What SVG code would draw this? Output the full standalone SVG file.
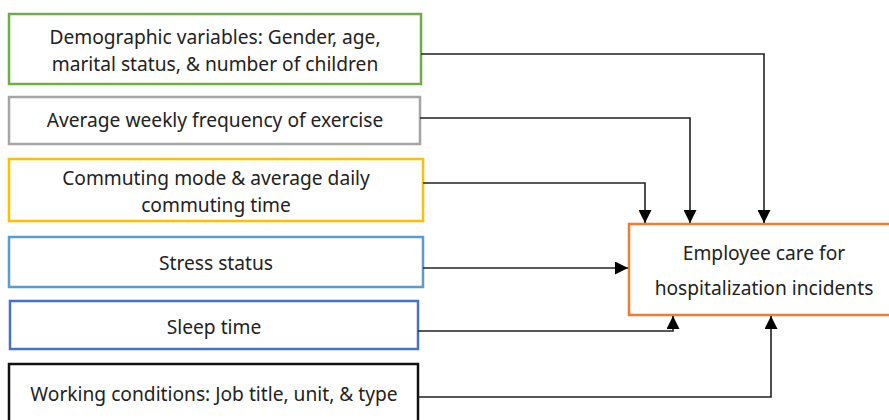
<svg xmlns="http://www.w3.org/2000/svg" width="889" height="420" viewBox="0 0 889 420">
<defs>
<marker id="ah" viewBox="0 0 12 12" refX="12" refY="6" markerWidth="13" markerHeight="13" markerUnits="userSpaceOnUse" orient="auto">
<path d="M0,0 L12,6 L0,12 Z" fill="#000"/>
</marker>
<style>
.box{fill:#fff;stroke-width:2.5}
.t{font-family:"Noto Sans","Open Sans",sans-serif;font-size:19.2px;fill:#222;text-anchor:middle}
.c{fill:none;stroke:#222;stroke-width:1.6}
</style>
</defs>
<rect width="889" height="420" fill="#fff"/>
<g id="n1"><rect class="box" x="9" y="14" width="412" height="70" stroke="#70AD47"/>
<text class="t" x="215" y="44">Demographic variables: Gender, age,</text>
<text class="t" x="215" y="70.5">marital status, &amp; number of children</text></g>
<g id="n2"><rect class="box" x="9" y="97" width="411" height="47" stroke="#A5A5A5"/>
<text class="t" x="215" y="127">Average weekly frequency of exercise</text></g>
<g id="n3"><rect class="box" x="9" y="159" width="414" height="62" stroke="#FFC000"/>
<text class="t" x="216" y="185">Commuting mode &amp; average daily</text>
<text class="t" x="216" y="211.5">commuting time</text></g>
<g id="n4"><rect class="box" x="9" y="237" width="414" height="50" stroke="#5B9BD5"/>
<text class="t" x="216" y="270">Stress status</text></g>
<g id="n5"><rect class="box" x="10" y="301" width="408" height="48" stroke="#4472C4"/>
<text class="t" x="214" y="334">Sleep time</text></g>
<g id="n6"><rect class="box" x="9" y="364" width="409" height="70" stroke="#111"/>
<text class="t" x="214" y="401">Working conditions: Job title, unit, &amp; type</text></g>
<g id="target"><rect class="box" x="629" y="224" width="262" height="91" stroke="#ED7D31"/>
<text class="t" x="764" y="260">Employee care for</text>
<text class="t" x="764" y="295">hospitalization incidents</text></g>
<g id="connectors">
<path class="c" d="M421,54 H764 V223" marker-end="url(#ah)"/>
<path class="c" d="M420,118 H690 V223" marker-end="url(#ah)"/>
<path class="c" d="M423,183 H645 V223" marker-end="url(#ah)"/>
<path class="c" d="M423,268 H628" marker-end="url(#ah)"/>
<path class="c" d="M418,331 H673 V316" marker-end="url(#ah)"/>
<path class="c" d="M418,397 H771 V316" marker-end="url(#ah)"/>
</g>
</svg>
